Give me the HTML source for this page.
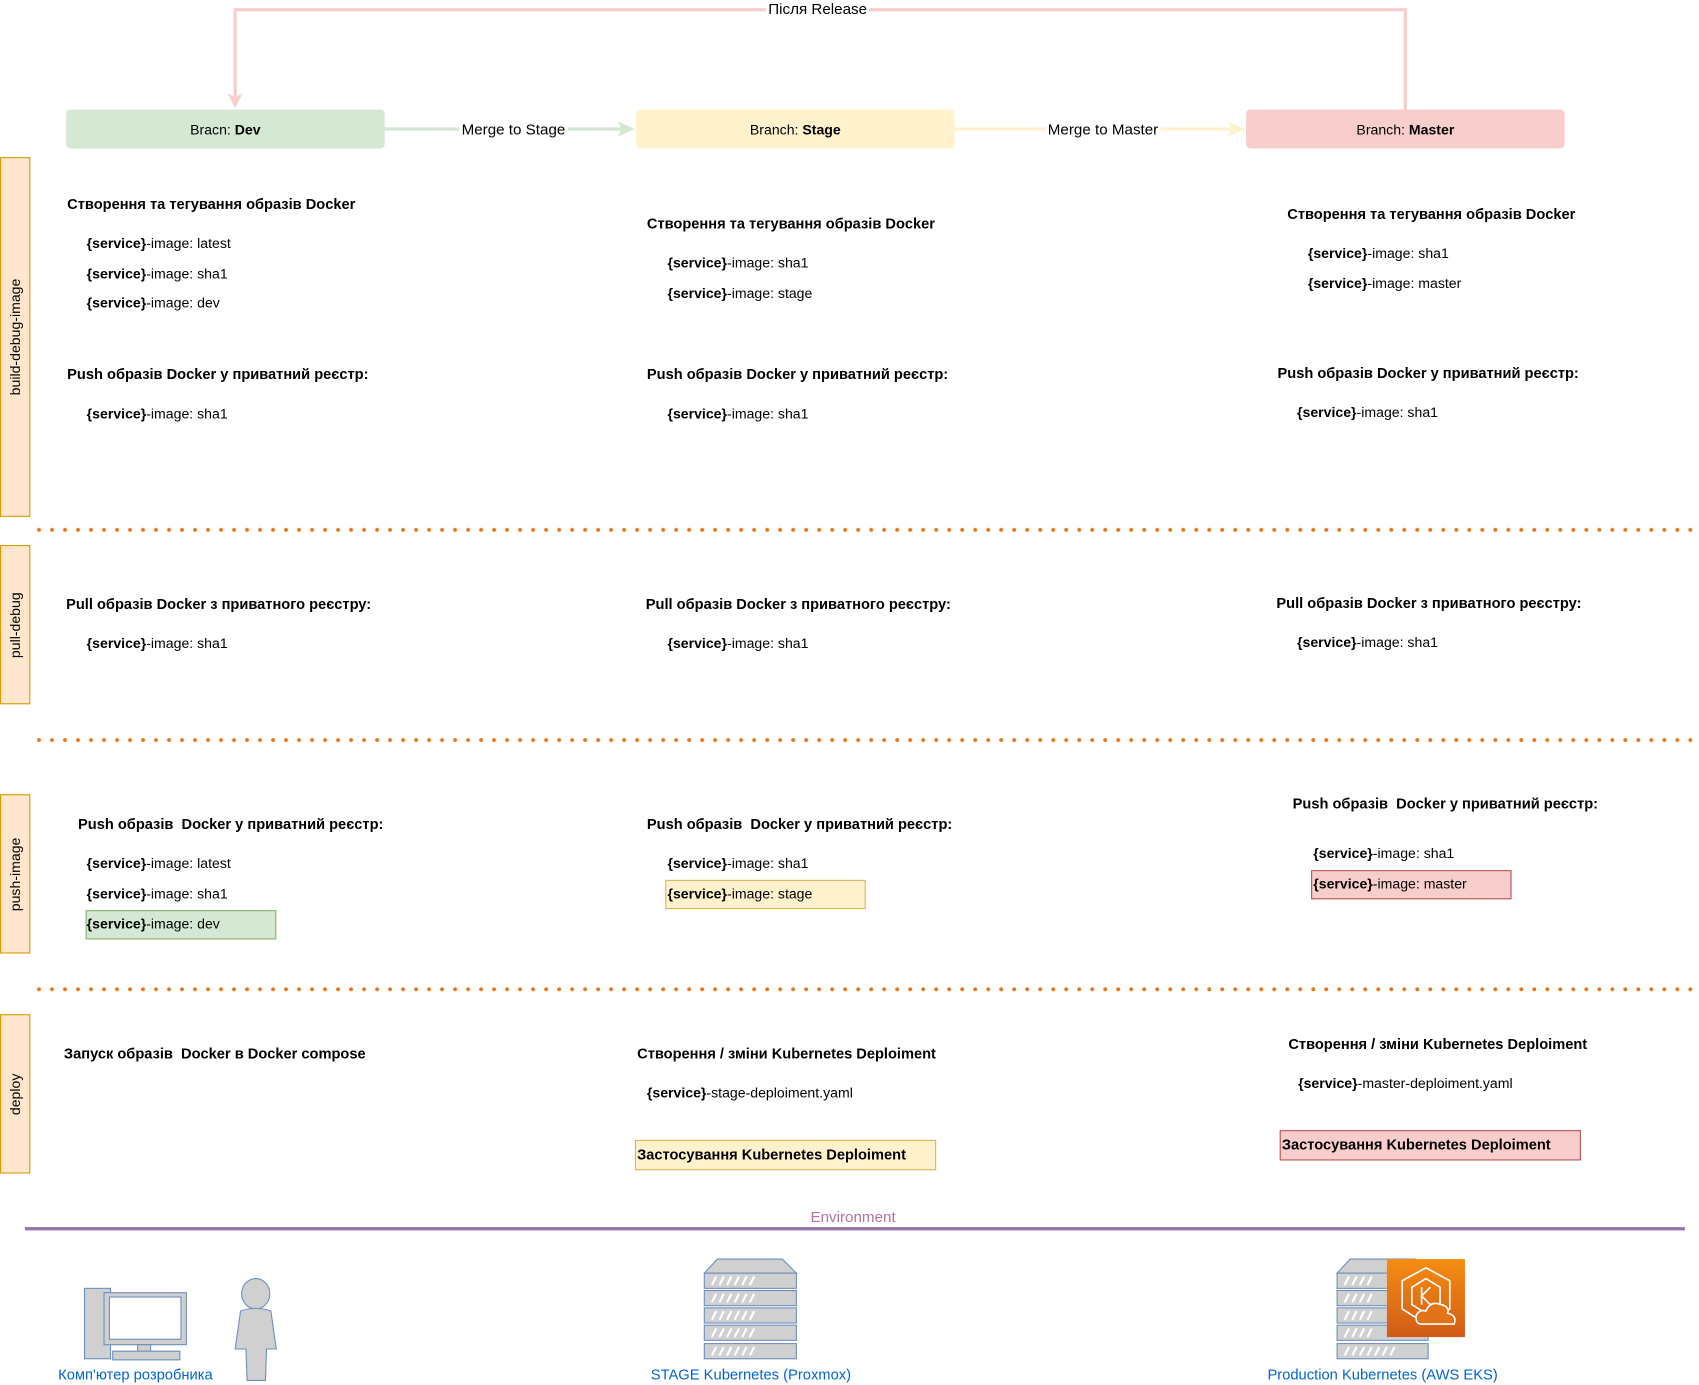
<!DOCTYPE html>
<html><head><meta charset="utf-8"><style>
html,body{margin:0;padding:0;background:#fff;width:1699px;height:1385px;overflow:hidden}
#w{position:absolute;left:0;top:0;width:1568px;height:1278px;transform:scale(1.08355);transform-origin:0 0;font-family:"Liberation Sans","DejaVu Sans",sans-serif;color:#000}
.t{position:absolute;font-size:13px;white-space:nowrap;line-height:16px}
.h{font-weight:bold;font-size:13.5px}
.box{position:absolute;box-sizing:border-box}
.br{position:absolute;height:36px;border-radius:4px;font-size:13px;display:flex;align-items:center;justify-content:center}
.lane{position:absolute;left:0;width:28px;background:#FFE6CC;border:1px solid #D79B00;box-sizing:border-box}
.lane span{position:absolute;left:50%;top:50%;transform:translate(-50%,-50%) rotate(-90deg);font-size:13px;white-space:nowrap}
.dot{position:absolute;left:30px;width:1538px;height:4px;background-image:radial-gradient(circle,#E07A1F 1.7px,transparent 2px);background-size:12px 4px;background-repeat:repeat-x}
.lbl{position:absolute;font-size:13.6px;color:#0066CC;white-space:nowrap;transform:translateX(-50%)}
</style></head><body><div id="w">

<svg width="1568" height="1278" style="position:absolute;left:0;top:0">
<polyline points="217,92 217,9 1297,9 1297,101" fill="none" stroke="#F8CECC" stroke-width="3"/>
<polygon points="210,86 217,100 224,86 217,90" fill="#F8CECC"/>
<line x1="355" y1="119" x2="578" y2="119" stroke="#D5E8D4" stroke-width="3"/>
<polygon points="570,112 586,119 570,126 574,119" fill="#D5E8D4"/>
<line x1="881" y1="119" x2="1141" y2="119" stroke="#FFF2CC" stroke-width="3"/>
<polygon points="1133,112 1149,119 1133,126 1137,119" fill="#FFF2CC"/>
<line x1="23" y1="1134" x2="1555" y2="1134" stroke="#9673A6" stroke-width="3"/>
<g stroke="#6C8EBF" fill="#D0D0D0" stroke-width="1">
<rect x="78" y="1189" width="24" height="65"/>
<rect x="96" y="1193" width="76" height="48"/><rect x="101" y="1197" width="66" height="39" fill="#fff"/>
<rect x="127" y="1241" width="12" height="7"/><rect x="104" y="1247" width="62" height="8"/>
</g>
<g stroke="#6C8EBF" fill="#D0D0D0">
<ellipse cx="236" cy="1194" rx="13" ry="14"/>
<path d="M222,1210 Q236,1205 250,1210 L255,1245 L246,1245 L245,1274 L228,1274 L227,1245 L217,1245 Z"/>
</g>
<g stroke="#6C8EBF" fill="#D0D0D0">
<path d="M650,1175 L662,1162 L722,1162 L735,1175 Z"/>
<rect x="650" y="1175" width="85" height="14"/><rect x="650" y="1191" width="85" height="14"/><rect x="650" y="1207" width="85" height="14"/><rect x="650" y="1223" width="85" height="14"/><rect x="650" y="1240" width="85" height="14"/>
</g>
<g stroke="#fff" stroke-width="2">
<path d="M657,1186l4,-8M664,1186l4,-8M671,1186l4,-8M678,1186l4,-8M685,1186l4,-8M692,1186l4,-8M657,1202l4,-8M664,1202l4,-8M671,1202l4,-8M678,1202l4,-8M685,1202l4,-8M692,1202l4,-8M657,1218l4,-8M664,1218l4,-8M671,1218l4,-8M678,1218l4,-8M685,1218l4,-8M692,1218l4,-8M657,1234l4,-8M664,1234l4,-8M671,1234l4,-8M678,1234l4,-8M685,1234l4,-8M692,1234l4,-8M657,1251l4,-8M664,1251l4,-8M671,1251l4,-8M678,1251l4,-8M685,1251l4,-8M692,1251l4,-8"/>
</g>
<g stroke="#6C8EBF" fill="#D0D0D0">
<path d="M1234,1175 L1246,1162 L1306,1162 L1318,1175 Z"/>
<rect x="1234" y="1175" width="84" height="14"/><rect x="1234" y="1191" width="84" height="14"/><rect x="1234" y="1207" width="84" height="14"/><rect x="1234" y="1223" width="84" height="14"/><rect x="1234" y="1240" width="84" height="14"/>
</g>
<g stroke="#fff" stroke-width="2">
<path d="M1241,1186l4,-8M1248,1186l4,-8M1255,1186l4,-8M1262,1186l4,-8M1241,1202l4,-8M1248,1202l4,-8M1255,1202l4,-8M1262,1202l4,-8M1241,1218l4,-8M1248,1218l4,-8M1255,1218l4,-8M1262,1218l4,-8M1241,1234l4,-8M1248,1234l4,-8M1255,1234l4,-8M1262,1234l4,-8M1241,1251l4,-8M1248,1251l4,-8M1255,1251l4,-8M1262,1251l4,-8M1269,1251l4,-8M1276,1251l4,-8M1283,1251l4,-8"/>
</g>
<defs><linearGradient id="eg" x1="0" y1="0" x2="0" y2="1"><stop offset="0" stop-color="#F68D11"/><stop offset="1" stop-color="#D05C17"/></linearGradient></defs>
<rect x="1280" y="1162" width="72" height="72" fill="url(#eg)"/>
<g fill="none" stroke="#fff" stroke-width="1.5">
<path d="M1316,1170 L1338,1182 L1338,1208 L1316,1222 L1294,1208 L1294,1182 Z"/>
<path d="M1316,1180 L1329,1188 L1329,1204 L1316,1212 L1303,1204 L1303,1188 Z"/>
<path d="M1312,1188 L1312,1204 M1312,1196 L1320,1188 M1312,1196 L1320,1204"/>
<path d="M1312,1222 Q1306,1222 1307,1214 Q1310,1208 1316,1210 Q1320,1200 1330,1204 Q1338,1206 1336,1212 Q1345,1214 1342,1222 Z" fill="#E27417"/>
</g>
</svg>

<div class="t" style="left:707px;top:0px;font-size:14px;background:#fff;padding:0 2px">Після Release</div>
<div class="br" style="left:61px;top:101px;width:294px;background:#D5E8D4">Bracn:&nbsp;<b>Dev</b></div>
<div class="br" style="left:587px;top:101px;width:294px;background:#FFF2CC">Branch:&nbsp;<b>Stage</b></div>
<div class="br" style="left:1150px;top:101px;width:294px;background:#F8CECC">Branch:&nbsp;<b>Master</b></div>
<div class="t" style="left:424px;top:111px;font-size:14px;background:#fff;padding:0 2px">Merge to Stage</div>
<div class="t" style="left:965px;top:111px;font-size:14px;background:#fff;padding:0 2px">Merge to Master</div>

<div class="lane" style="top:145px;height:332px"><span>build-debug-image</span></div>
<div class="lane" style="top:503px;height:147px"><span>pull-debug</span></div>
<div class="lane" style="top:733px;height:147px"><span>push-image</span></div>
<div class="lane" style="top:936px;height:147px"><span>deploy</span></div>

<div class="dot" style="top:487px"></div>
<div class="dot" style="top:681px"></div>
<div class="dot" style="top:911px"></div>

<div class="t h" style="left:62px;top:181px">Створення та тегування образів Docker</div>
<div class="t" style="left:80px;top:217px"><b>{service}</b>-image: latest</div>
<div class="t" style="left:80px;top:245px"><b>{service}</b>-image: sha1</div>
<div class="t" style="left:80px;top:272px"><b>{service}</b>-image: dev</div>
<div class="t h" style="left:62px;top:338px">Push образів Docker у приватний реєстр:</div>
<div class="t" style="left:80px;top:374px"><b>{service}</b>-image: sha1</div>
<div class="t h" style="left:597px;top:199px">Створення та тегування образів Docker</div>
<div class="t" style="left:616px;top:235px"><b>{service}</b>-image: sha1</div>
<div class="t" style="left:616px;top:263px"><b>{service}</b>-image: stage</div>
<div class="t h" style="left:597px;top:338px">Push образів Docker у приватний реєстр:</div>
<div class="t" style="left:616px;top:374px"><b>{service}</b>-image: sha1</div>
<div class="t h" style="left:1188px;top:190px">Створення та тегування образів Docker</div>
<div class="t" style="left:1207px;top:226px"><b>{service}</b>-image: sha1</div>
<div class="t" style="left:1207px;top:254px"><b>{service}</b>-image: master</div>
<div class="t h" style="left:1179px;top:337px">Push образів Docker у приватний реєстр:</div>
<div class="t" style="left:1197px;top:373px"><b>{service}</b>-image: sha1</div>

<div class="t h" style="left:61px;top:550px">Pull образів Docker з приватного реєстру:</div>
<div class="t" style="left:80px;top:586px"><b>{service}</b>-image: sha1</div>
<div class="t h" style="left:596px;top:550px">Pull образів Docker з приватного реєстру:</div>
<div class="t" style="left:616px;top:586px"><b>{service}</b>-image: sha1</div>
<div class="t h" style="left:1178px;top:549px">Pull образів Docker з приватного реєстру:</div>
<div class="t" style="left:1197px;top:585px"><b>{service}</b>-image: sha1</div>

<div class="t h" style="left:72px;top:753px">Push образів&nbsp; Docker у приватний реєстр:</div>
<div class="t" style="left:80px;top:789px"><b>{service}</b>-image: latest</div>
<div class="t" style="left:80px;top:817px"><b>{service}</b>-image: sha1</div>
<div class="box" style="left:79px;top:840px;width:176px;height:27px;background:#D5E8D4;border:1px solid #82B366"></div>
<div class="t" style="left:80px;top:845px"><b>{service}</b>-image: dev</div>

<div class="t h" style="left:597px;top:753px">Push образів&nbsp; Docker у приватний реєстр:</div>
<div class="t" style="left:616px;top:789px"><b>{service}</b>-image: sha1</div>
<div class="box" style="left:614px;top:812px;width:185px;height:27px;background:#FFF2CC;border:1px solid #D6B656"></div>
<div class="t" style="left:616px;top:817px"><b>{service}</b>-image: stage</div>

<div class="t h" style="left:1193px;top:734px">Push образів&nbsp; Docker у приватний реєстр:</div>
<div class="t" style="left:1212px;top:780px"><b>{service}</b>-image: sha1</div>
<div class="box" style="left:1210px;top:803px;width:185px;height:27px;background:#F8CECC;border:1px solid #B85450"></div>
<div class="t" style="left:1212px;top:808px"><b>{service}</b>-image: master</div>

<div class="t h" style="left:59px;top:965px">Запуск образів&nbsp; Docker в Docker compose</div>
<div class="t h" style="left:588px;top:965px">Створення / зміни Kubernetes Deploiment</div>
<div class="t" style="left:597px;top:1001px"><b>{service}</b>-stage-deploiment.yaml</div>
<div class="box" style="left:586px;top:1052px;width:278px;height:28px;background:#FFF2CC;border:1px solid #D6B656"></div>
<div class="t h" style="left:588px;top:1058px">Застосування Kubernetes Deploiment</div>
<div class="t h" style="left:1189px;top:956px">Створення / зміни Kubernetes Deploiment</div>
<div class="t" style="left:1198px;top:992px"><b>{service}</b>-master-deploiment.yaml</div>
<div class="box" style="left:1181px;top:1043px;width:278px;height:28px;background:#F8CECC;border:1px solid #B85450"></div>
<div class="t h" style="left:1183px;top:1049px">Застосування Kubernetes Deploiment</div>

<div class="t" style="left:748px;top:1115px;font-size:14px;color:#B5739D">Environment</div>

<div class="lbl" style="left:125px;top:1261px">Комп'ютер розробника</div>
<div class="lbl" style="left:693px;top:1261px">STAGE Kubernetes (Proxmox)</div>
<div class="lbl" style="left:1276px;top:1261px">Production Kubernetes (AWS EKS)</div>
</div></body></html>
